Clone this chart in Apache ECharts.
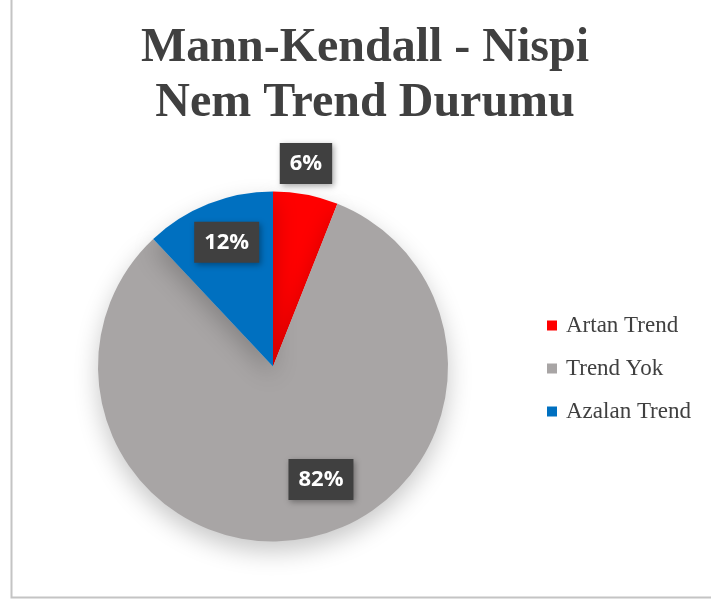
<!DOCTYPE html>
<html>
<head>
<meta charset="utf-8">
<script src="https://cdn.jsdelivr.net/npm/echarts@6/dist/echarts.min.js"></script>
<style>html,body{margin:0;padding:0;background:#fff;}#c{width:711px;height:603px;}</style>
</head>
<body>
<div id="c"></div>
<script>
const titleText = 'Mann-Kendall - Nispi\nNem Trend Durumu';
const categories = ['Artan Trend', 'Trend Yok', 'Azalan Trend'];
const values = [6, 82, 12];
const colors = ['#ff0000', '#a8a5a5', '#0070c0'];
const labelOffsets = [[16, -114], [31, 24], [-13, -40]];

const chart = echarts.init(document.getElementById('c'));
chart.setOption({
  backgroundColor: '#ffffff',
  animation: false,
  graphic: [{
    type: 'rect', silent: true, z: -10,
    shape: { x: 11.5, y: -10, width: 720, height: 607.5 },
    style: { fill: '#ffffff', stroke: '#c4c4c4', lineWidth: 2 }
  }],
  title: {
    text: titleText,
    left: 365, top: 21, textAlign: 'center', padding: 0,
    textStyle: { fontFamily: 'Liberation Serif', fontWeight: 'bold', fontSize: 48, lineHeight: 55, color: '#404040' }
  },
  legend: {
    orient: 'vertical', left: 547, top: 314, padding: 0,
    icon: 'rect', itemWidth: 10, itemHeight: 10, itemGap: 20,
    data: categories,
    textStyle: { fontFamily: 'Liberation Serif', fontSize: 23, lineHeight: 22, color: '#404040', padding: [0, 0, 0, 4] }
  },
  series: [{
    type: 'pie',
    center: [273, 366.5], radius: 175,
    startAngle: 90, clockwise: true,
    labelLine: { show: false },
    itemStyle: { shadowBlur: 25, shadowColor: 'rgba(0,0,0,0.22)', shadowOffsetY: 10 },
    label: {
      show: true, position: 'inside',
      formatter: p => p.value + '%',
      fontFamily: 'Open Sans', fontWeight: 'bold', fontSize: 22, color: '#ffffff',
      backgroundColor: '#404040', padding: [10, 10, 9, 10],
      shadowBlur: 6, shadowColor: 'rgba(0,0,0,0.35)', shadowOffsetX: 2, shadowOffsetY: 2
    },
    emphasis: { disabled: true },
    data: categories.map((n, i) => ({
      name: n, value: values[i],
      itemStyle: { color: colors[i] },
      label: { offset: labelOffsets[i] }
    }))
  }]
});
</script>
</body>
</html>
